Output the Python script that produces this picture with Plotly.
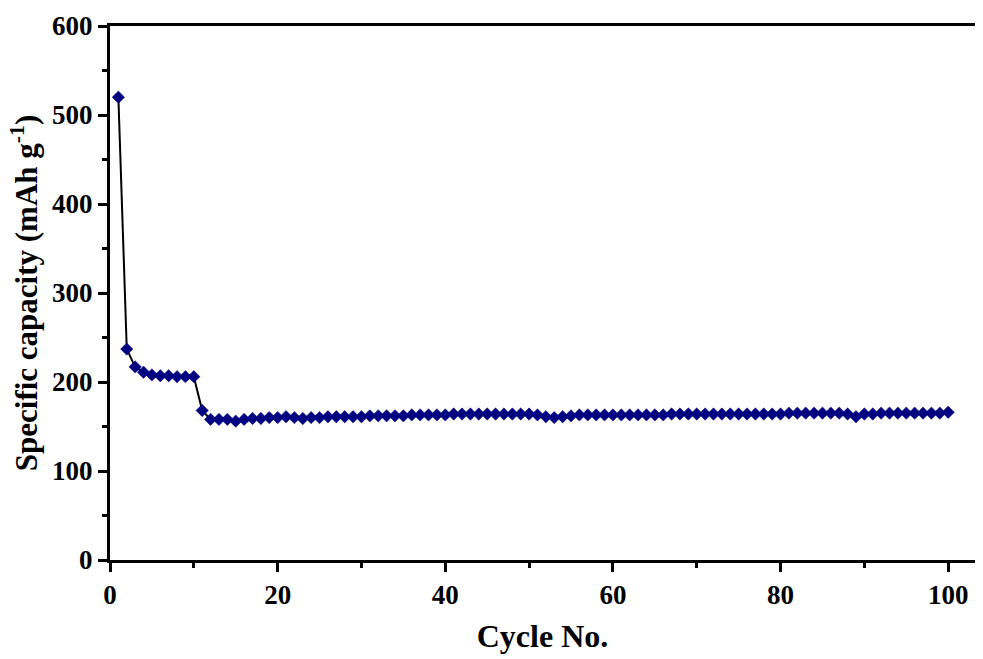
import plotly.graph_objects as go

cycles = list(range(1, 101))
capacity = [
    520, 237, 217, 211, 208, 207, 207, 206, 206, 206,
    168, 158, 158, 158, 156, 158, 159, 159, 160, 160,
    161, 160, 159, 160, 160, 161, 161, 161, 161, 161,
    162, 162, 162, 162, 162, 163, 163, 163, 163, 163,
    164, 164, 164, 164, 164, 164, 164, 164, 164, 164,
    163, 161, 160, 161, 162, 163, 163, 163, 163, 163,
    163, 163, 163, 163, 163, 163, 164, 164, 164, 164,
    164, 164, 164, 164, 164, 164, 164, 164, 164, 164,
    165, 165, 165, 165, 165, 165, 165, 164, 161, 164,
    164, 165, 165, 165, 165, 165, 165, 165, 165, 166,
]

x_ticks = [0, 20, 40, 60, 80, 100]
y_ticks = [0, 100, 200, 300, 400, 500, 600]

font_family = "Liberation Serif"

fig = go.Figure()
fig.add_trace(go.Scatter(
    x=cycles, y=capacity, mode="lines+markers",
    line=dict(color="black", width=2),
    marker=dict(symbol="diamond", size=9.5, color="#000080",
                line=dict(color="#000080", width=0.5)),
    showlegend=False,
))

axis_common = dict(
    showgrid=False, zeroline=False, showline=True, linecolor="black",
    linewidth=3, ticks="outside", ticklen=9, tickwidth=3, tickcolor="black",
    tickfont=dict(family=font_family, size=27, color="black", weight="bold"),
)

fig.update_xaxes(
    range=[0, 103.2], tickvals=x_ticks, mirror=True,
    minor=dict(ticks="outside", ticklen=5, tickwidth=3, tickcolor="black", dtick=10, tick0=0),
    title=dict(text="Cycle No.", standoff=16,
               font=dict(family=font_family, size=32, color="black", weight="bold")),
    **axis_common,
)
fig.update_yaxes(
    range=[0, 600], tickvals=y_ticks,
    minor=dict(ticks="outside", ticklen=5, tickwidth=3, tickcolor="black", dtick=50, tick0=0),
    title=dict(text="Specific capacity (mAh g<sup>-1</sup>)", standoff=6,
               font=dict(family=font_family, size=31, color="black", weight="bold")),
    **axis_common,
)

fig.update_layout(
    width=983, height=659,
    margin=dict(l=110, r=8, t=26, b=99),
    plot_bgcolor="white", paper_bgcolor="white",
)

fig.write_html("out.html")
